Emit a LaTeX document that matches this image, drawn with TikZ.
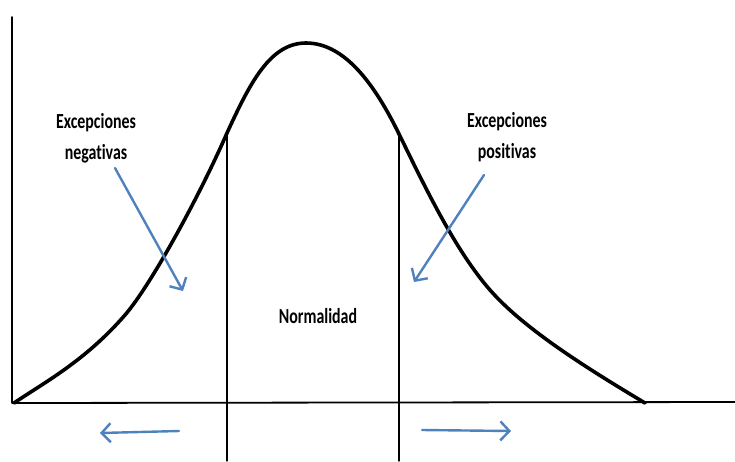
\documentclass[tikz,border=0pt]{standalone}
\usepackage{fontspec}
\newfontfamily\lblfont[FakeStretch=0.74,Ligatures=NoCommon]{Carlito}
\usetikzlibrary{arrows.meta}
\definecolor{hintblue}{RGB}{79,129,189}
\begin{document}
\begin{tikzpicture}[x=1pt,y=-1pt,line cap=round,line join=round,
    lbl/.style={font=\lblfont\bfseries\fontsize{21.5}{31}\selectfont,align=center,inner sep=0pt},
    hint/.style={hintblue,line width=2.4pt,-{Straight Barb[length=9pt,width=19pt]}}]
  \useasboundingbox (0,0) rectangle (735,461);
  % axes
  \coordinate (O) at (12,403);
  \coordinate (ytop) at (12,17);
  \coordinate (xend) at (735,402);
  \draw[line width=1.8pt] (ytop) -- (O) -- (xend);
  % bell curve
  \draw[line width=3.6pt] (14,403) .. controls (45,382) and (85,361) .. (125,315)
    .. controls (151,285) and (200,195) .. (227,133)
    .. controls (250,83) and (270,43) .. (306,43)
    .. controls (345,43) and (375,85) .. (399,134)
    .. controls (425,187) and (455,250) .. (490,290)
    .. controls (525,330) and (590,370) .. (645,403);
  % limits of the normal zone
  \coordinate (lcut) at (227,131);
  \coordinate (rcut) at (399,133);
  \draw[line width=1.3pt] (lcut) -- (227,461);
  \draw[line width=1.3pt] (rcut) -- (399,461);
  % labels
  \node[lbl] (neg) at (96,138) {Excepciones\\negativas};
  \node[lbl] (pos) at (507,137) {Excepciones\\positivas};
  \node[lbl,anchor=base] (norm) at (318,323) {Normalidad};
  % hints
  \coordinate (negtail) at (115,168);
  \coordinate (neghead) at (183,291);
  \coordinate (postail) at (484,175);
  \coordinate (poshead) at (414,282);
  \draw[hint] (negtail) -- (neghead);
  \draw[hint] (postail) -- (poshead);
  \coordinate (lefttail) at (179,431);
  \coordinate (lefthead) at (100,433);
  \coordinate (righttail) at (422,430);
  \coordinate (righthead) at (511,431);
  \draw[hint] (lefttail) -- (lefthead);
  \draw[hint] (righttail) -- (righthead);
\end{tikzpicture}
\end{document}
